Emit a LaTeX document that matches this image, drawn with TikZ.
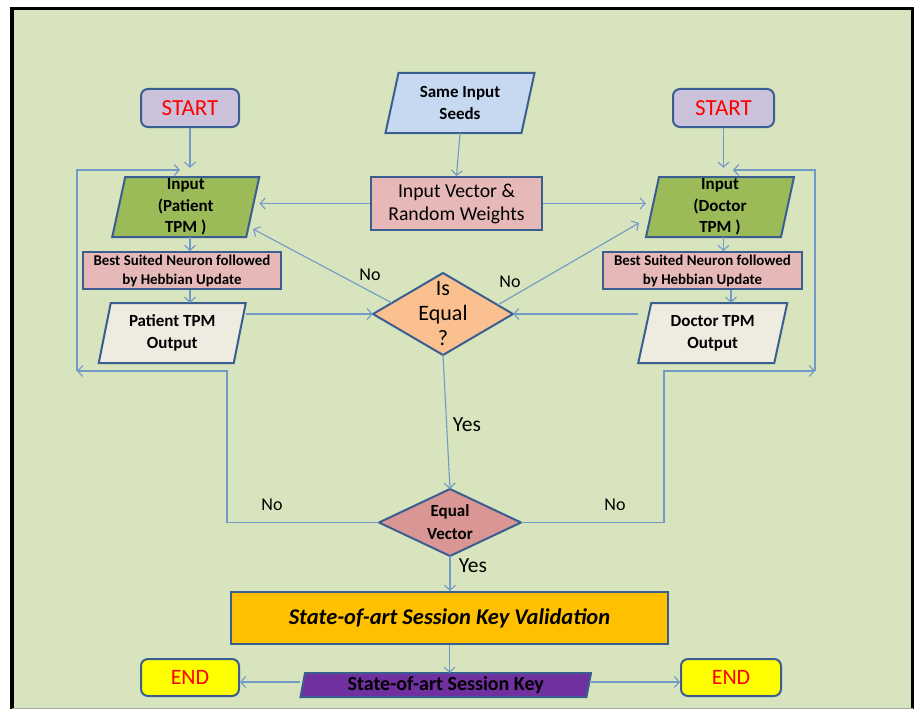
\documentclass[tikz,border=0pt]{standalone}
\usepackage{fontspec}
\setmainfont{Carlito}
\usetikzlibrary{arrows.meta,calc}
\definecolor{bgc}{HTML}{D7E4BD}
\definecolor{bdc}{HTML}{3B5E91}
\definecolor{lnc}{HTML}{7399C6}
\definecolor{lav}{HTML}{CCC1DA}
\definecolor{skyb}{HTML}{C6D9F1}
\definecolor{pnk}{HTML}{E6B9B8}
\definecolor{grn}{HTML}{9BBB59}
\definecolor{crm}{HTML}{EEECE1}
\definecolor{org}{HTML}{FAC090}
\definecolor{dpk}{HTML}{D99694}
\definecolor{gld}{HTML}{FFC000}
\definecolor{prp}{HTML}{7030A0}
\definecolor{ylw}{HTML}{FFFF00}
\definecolor{rd}{HTML}{FF0000}
% name, cx, cy, edge width, height, slant, fill, font, text
\newcommand\paral[9]{%
  \filldraw[bd, fill=#7] ({#2-#4/2+#6/2},{#3-#5/2}) -- ({#2+#4/2+#6/2},{#3-#5/2})
     -- ({#2+#4/2-#6/2},{#3+#5/2}) -- ({#2-#4/2-#6/2},{#3+#5/2}) -- cycle;
  \node[minimum width={#4+#6}, minimum height=#5, inner sep=0pt, align=center, font=#8] (#1) at (#2,#3) {#9};}
% name, cx, cy, width, height, fill, font, text
\newcommand\diam[8]{%
  \filldraw[bd, fill=#6] ({#2-#4/2},#3) -- (#2,{#3-#5/2}) -- ({#2+#4/2},#3) -- (#2,{#3+#5/2}) -- cycle;
  \node[minimum width=#4, minimum height=#5, inner sep=0pt, align=center, font=#7] (#1) at (#2,#3) {#8};}
\begin{document}
\begin{tikzpicture}[x=1pt,y=-1pt,
  conn/.style={draw=lnc, line width=1.1pt},
  arr/.style={conn, -{Straight Barb[length=5pt,width=11pt]}},
  bd/.style={draw=bdc, line width=2pt},
  lbl/.style={font=\fontsize{18}{21}\selectfont, inner sep=0pt},
  ylbl/.style={font=\fontsize{21.5}{24}\selectfont, inner sep=0pt},
  rbox/.style={bd, rounded corners=7pt, minimum height=38, inner sep=0pt, font=\fontsize{23}{26}\selectfont, text=rd},
  sqbox/.style={bd, inner sep=0pt, align=center}]
\useasboundingbox (0,0) rectangle (916,709);
\fill[white] (0,0) rectangle (916,709);
\fill[bgc] (12,8.5) rectangle (912.5,712);
\draw[black, line width=3.5pt] (12,712) -- (12,8.5) -- (912.5,8.5) -- (912.5,712);
\draw[black!35, line width=1pt] (12,708) -- (912.5,708);

% start nodes
\node[rbox, fill=lav, minimum width=98] (startL) at (190,108) {START};
\node[rbox, fill=lav, minimum width=101] (startR) at (723.5,108) {START};

% seeds and input vector
\paral{seeds}{460}{103}{136}{60}{13}{skyb}{\fontsize{17}{21.5}\selectfont\bfseries}{Same Input\\Seeds}
\node[sqbox, fill=pnk, minimum width=171, minimum height=53, font=\fontsize{19.7}{23}\selectfont] (ivec) at (456.5,203.5) {Input Vector \&\\Random Weights};

% inputs
\paral{inP}{185.75}{207}{134}{60}{13}{grn}{\fontsize{17}{21.5}\selectfont\bfseries}{Input\\(Patient\\TPM )}
\paral{inD}{720}{207}{135}{60}{13}{grn}{\fontsize{17}{21.5}\selectfont\bfseries}{Input\\(Doctor\\TPM )}

% best suited
\node[sqbox, fill=pnk, minimum width=198, minimum height=37, font=\fontsize{14.9}{19}\selectfont\bfseries] (bsP) at (182,270.5) {Best Suited Neuron followed\\by Hebbian Update};
\node[sqbox, fill=pnk, minimum width=199, minimum height=37, font=\fontsize{14.9}{19}\selectfont\bfseries] (bsD) at (702.5,270.5) {Best Suited Neuron followed\\by Hebbian Update};

% outputs
\paral{outP}{172.25}{333}{135}{60}{12}{crm}{\fontsize{17}{22}\selectfont\bfseries}{Patient TPM\\Output}
\paral{outD}{712.75}{333}{136}{60}{13}{crm}{\fontsize{17}{22}\selectfont\bfseries}{Doctor TPM\\Output}

% decisions
\diam{iseq}{443}{314}{140}{82}{org}{\fontsize{22}{25}\selectfont}{Is\\Equal\\?}
\diam{eqv}{450}{522.5}{142}{67}{dpk}{\fontsize{17}{23}\selectfont\bfseries}{Equal\\Vector}

% validation, key, ends
\node[sqbox, fill=gld, minimum width=437, minimum height=52, font=\fontsize{22.5}{26}\selectfont\bfseries\itshape] (valid) at (449.5,618) {State-of-art Session Key Validation};
\paral{skey}{445.75}{685}{286}{24}{4.5}{prp}{\fontsize{20}{22}\selectfont\bfseries}{State-of-art Session Key}
\node[rbox, fill=ylw, minimum width=98, minimum height=37, font=\fontsize{22}{25}\selectfont] (endL) at (190,677.5) {END};
\node[rbox, fill=ylw, minimum width=100, minimum height=37, font=\fontsize{22}{25}\selectfont] (endR) at (731,677.5) {END};

% connectors
\draw[arr, shorten >=9pt] (startL.south) -- (startL.south |- inP.north);
\draw[arr, shorten >=9pt] (startR.south) -- (startR.south |- inD.north);
\draw[arr] (seeds.south) -- (ivec.north);
\draw[arr] (ivec.west) -- (ivec.west -| inP.east);
\draw[arr] (ivec.east) -- (ivec.east -| inD.west);
\draw[arr] (inP.south -| startL.south) -- (bsP.north -| startL.south);
\draw[arr] (bsP.south -| startL.south) -- (outP.north -| startL.south);
\draw[arr] (inD.south -| startR.south) -- (bsD.north -| startR.south);
\draw[arr] ([xshift=28.5pt]bsD.south) -- ([xshift=28.5pt]bsD.south |- outD.north);
\draw[arr] (outP.east |- iseq.west) -- (iseq.west);
\draw[arr] (outD.west |- iseq.east) -- (iseq.east);

\coordinate (noLs) at ($(iseq.west)!0.27!(iseq.north)$);
\coordinate (noRs) at ($(iseq.east)!0.22!(iseq.north)$);
\coordinate (noLt) at (253,229);
\coordinate (noRt) at (639,223);
\draw[arr] (noLs) -- (noLt);
\draw[arr] (noRs) -- (noRt);
\node[lbl] (no1) at (370,275) {No};
\node[lbl] (no2) at (510,282) {No};

\draw[arr] (iseq.south) -- (eqv.north);
\node[ylbl] (yes1) at (467,425) {Yes};

% loops
\coordinate (retL) at (77,371);
\coordinate (retR) at (815,371);
\coordinate (topL) at (180,170);
\coordinate (topR) at (733,170);
\draw[arr] (eqv.west) -| (227,371) -- (retL);
\draw[arr] (retL) |- (topL);
\draw[arr] (eqv.east) -| (664,371) -- (retR);
\draw[arr] (retR) |- (topR);
\node[lbl] (no3) at (272,505) {No};
\node[lbl] (no4) at (615,505) {No};

\draw[arr] (eqv.south) -- (eqv.south |- valid.north);
\node[ylbl] (yes2) at (473,566) {Yes};
\draw[arr] (valid.south) -- (valid.south |- skey.north);
\draw[arr] ([yshift=-4.5pt]endL.east -| skey.west) -- ([yshift=-4.5pt]endL.east);
\draw[arr] ([yshift=-4.5pt]endR.west -| skey.east) -- ([yshift=-4.5pt]endR.west);
\end{tikzpicture}
\end{document}
